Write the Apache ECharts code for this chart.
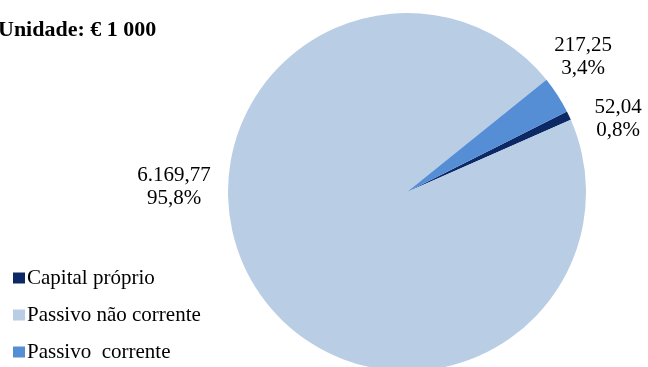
<!DOCTYPE html>
<html>
<head>
<meta charset="utf-8">
<style>
  html, body { margin: 0; padding: 0; background: #ffffff; }
  #chart { width: 648px; height: 367px; }
</style>
<script src="https://cdn.jsdelivr.net/npm/echarts@6/dist/echarts.min.js"></script>
</head>
<body>
<div id="chart"></div>
<script>
// Estrutura do passivo e capital próprio (milhares de euros)
const categories = ['Capital próprio', 'Passivo não corrente', 'Passivo  corrente'];
const values = [52.04, 6169.77, 217.25];
const colors = ['#0c2865', '#b9cde5', '#558ed5'];
const unitLabel = 'Unidade: € 1 000';

// Where each slice's value label sits (centre of the two-line block)
const labelAnchors = [
  [618, 119],
  [174, 187],
  [583, 57]
];

function formatNumber(v) {
  const parts = v.toFixed(2).split('.');
  const intPart = parts[0].replace(/\B(?=(\d{3})+(?!\d))/g, '.');
  return intPart + ',' + parts[1];
}

const serif = '"Liberation Serif", "Times New Roman", serif';

const chart = echarts.init(document.getElementById('chart'), null, { renderer: 'canvas' });

chart.setOption({
  animation: false,
  color: colors,
  title: {
    text: unitLabel,
    left: -2,
    top: 19,
    padding: 0,
    textStyle: {
      fontFamily: serif,
      fontWeight: 'bold',
      fontSize: 22,
      color: '#000000'
    }
  },
  legend: {
    orient: 'vertical',
    left: 13,
    top: 267,
    height: 100,
    padding: 0,
    icon: 'rect',
    itemWidth: 12,
    itemHeight: 11,
    itemGap: 15,
    selectedMode: false,
    textStyle: {
      fontFamily: serif,
      fontSize: 21,
      lineHeight: 19,
      color: '#000000',
      padding: [3, 0, 0, -3]
    },
    data: categories
  },
  series: [{
    type: 'pie',
    center: [407, 192],
    radius: 179,
    startAngle: 26.7,
    clockwise: true,
    percentPrecision: 1,
    avoidLabelOverlap: false,
    itemStyle: { borderWidth: 0 },
    label: {
      show: true,
      position: 'outside',
      fontFamily: serif,
      fontSize: 21,
      lineHeight: 23,
      color: '#000000',
      align: 'center',
      formatter: function (p) {
        return formatNumber(p.value) + '\n' + p.percent.toFixed(1).replace('.', ',') + '%';
      }
    },
    labelLine: { show: false },
    labelLayout: function (params) {
      const a = labelAnchors[params.dataIndex];
      return { x: a[0], y: a[1], align: 'center', verticalAlign: 'middle' };
    },
    emphasis: { disabled: true },
    data: categories.map(function (name, i) {
      return { name: name, value: values[i] };
    })
  }]
});
</script>
</body>
</html>
